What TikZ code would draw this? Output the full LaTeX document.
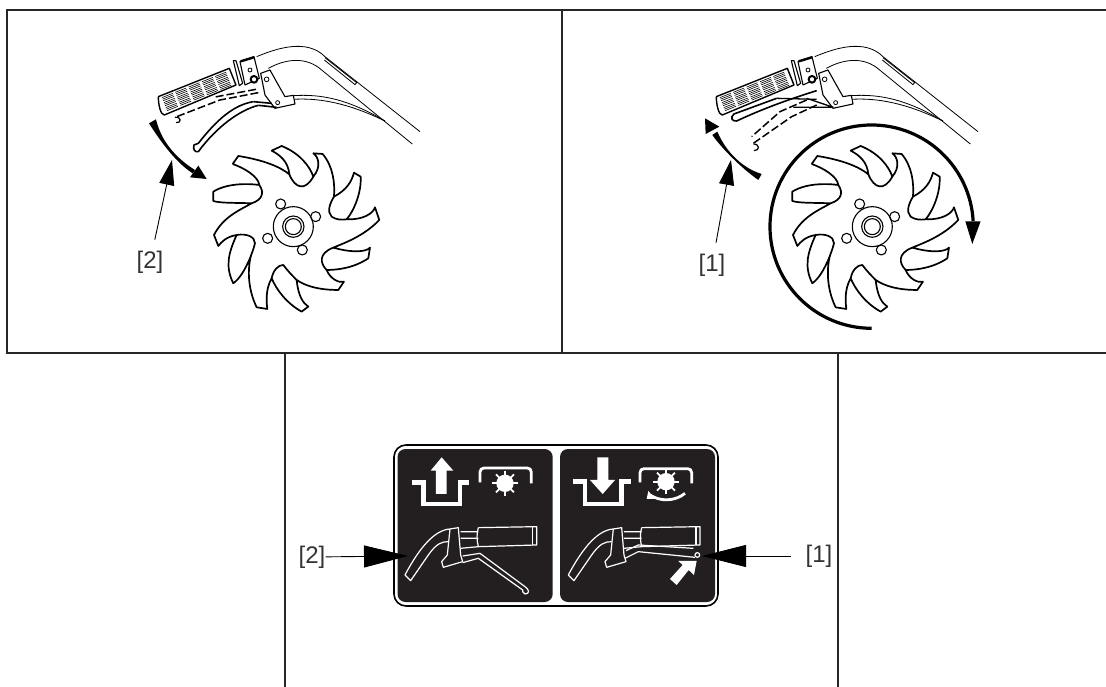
\documentclass[tikz,border=0pt]{standalone}
\usepackage{fontspec}
\setmainfont{Liberation Sans}
\usetikzlibrary{arrows.meta}
\definecolor{decal}{HTML}{231F20}
\tikzset{
  frame/.style={line width=1.1pt,black!85},
  part/.style={line width=1.1pt,line join=round},
  tine/.style={line width=1.7pt,line join=round},
  thinpart/.style={line width=.8pt},
  hidden/.style={line width=1.5pt,dash pattern=on 8pt off 3pt},
  callout/.style={inner sep=11pt,font=\fontsize{24}{26}\selectfont,text=black!80},
  leader/.style={-{Triangle[length=25pt,width=15pt]},line width=.9pt},
  bigleader/.style={-{Triangle[length=44pt,width=22pt]},line width=.9pt},
  zoomed/.style={x=.3333pt,y=-.3333pt},
  sign/.style={white,line width=1.2pt,line join=round}
}
\newcommand{\tinewheel}[2]{
  \begin{scope}[shift={(#1,#2)},zoomed]
    \draw[tine,fill=white] (308,432) -- (325,408) .. controls (400,420) and (450,440) .. (478,463)
      .. controls (475,425) and (450,405) .. (425,392) -- (455,378) .. controls (510,400) and (540,440) .. (550,470)
      .. controls (575,440) and (565,410) .. (550,400) -- (578,402) .. controls (610,440) and (615,490) .. (612,530)
      .. controls (650,510) and (665,485) .. (672,458) -- (692,470) .. controls (695,520) and (670,575) .. (650,598)
      .. controls (700,600) and (730,580) .. (735,562) -- (748,600) .. controls (700,650) and (640,670) .. (610,683)
      .. controls (670,700) and (710,695) .. (720,683) -- (715,715) .. controls (670,745) and (620,750) .. (590,750)
      .. controls (600,775) and (625,790) .. (642,785) -- (625,810) .. controls (570,810) and (530,800) .. (500,780)
      .. controls (505,830) and (520,850) .. (535,860) -- (515,875) .. controls (470,850) and (440,810) .. (425,775)
      .. controls (405,810) and (410,850) .. (412,867) -- (380,862) .. controls (350,800) and (355,740) .. (362,710)
      .. controls (345,750) and (330,775) .. (310,790) .. controls (285,740) and (295,700) .. (320,645)
      .. controls (290,650) and (275,665) .. (265,678) -- (252,645) .. controls (280,590) and (330,570) .. (365,550)
      .. controls (320,548) and (270,550) .. (250,543) -- (250,515) .. controls (290,490) and (350,490) .. (388,495)
      .. controls (385,470) and (345,445) .. (308,432);
    \draw[tine] (478,463) .. controls (495,505) and (525,515) .. (550,470);
    \draw[tine] (388,495) .. controls (405,520) and (395,540) .. (365,550);
    \draw[tine] (320,645) .. controls (350,640) and (375,650) .. (375,670) .. controls (370,690) and (365,700) .. (362,710);
    \draw[tine] (425,775) .. controls (430,750) and (445,735) .. (460,735) .. controls (475,755) and (490,770) .. (500,780);
    \draw[tine] (590,750) .. controls (570,730) and (565,700) .. (610,683);
    \draw[tine] (612,530) .. controls (600,550) and (590,575) .. (605,590) .. controls (620,600) and (635,600) .. (650,598);
    \draw[part] (490,620) circle[radius=60] circle[radius=32] circle[radius=24];
    \foreach \hx/\hy in {452/552,557/590,517/690,413/655}
      \draw[part] (\hx,\hy) circle[radius=15];
  \end{scope}
}
\newcommand{\handlebar}[2]{
  \begin{scope}[shift={(#1,#2)},zoomed]
    \draw[thinpart] (380,110) .. controls (440,85) and (530,55) .. (585,110) -- (870,335);
    \draw[thinpart] (415,145) .. controls (470,115) and (530,110) .. (575,150) -- (847,372);
    \draw[thinpart] (585,113) -- (680,188) -- (675,194) -- (583,120);
    \draw[thinpart] (490,227) .. controls (570,222) and (650,235) .. (765,303);
    \draw[thinpart] (490,238) .. controls (590,232) and (680,262) .. (765,303);
    \draw[part,line width=1.4pt,fill=white] (85,230) -- (298,145) -- (318,195) -- (103,285) .. controls (92,285) and (85,255) .. (85,230);
    \draw[part,fill=white] (310,122) -- (318,122) -- (338,190) -- (328,197) -- cycle;
    \draw[part,fill=white] (330,125) -- (372,110) -- (388,175) -- (345,195) -- cycle;
    \draw[line width=2.4pt] (332,124) -- (372,112);
    \begin{scope}[shift={(90,232)},x={(.31pt,.123pt)},y={(.123pt,-.31pt)}]
      \foreach \cl in {0,...,4}
        \foreach \rw in {0,1,2}
          \foreach \ln in {0,5,10}
            \draw[line width=.6pt] (\cl*43+5,\rw*16+\ln+3) -- (\cl*43+40,\rw*16+\ln+3);
    \end{scope}
    \draw[thinpart] (360,150) circle[radius=6];
    \draw[line width=2pt,fill=white] (372,178) circle[radius=10];
    \draw[part,fill=white] (392,160) -- (420,150) -- (445,195) -- (465,230) -- (490,226) -- (495,252) -- (435,265) -- (405,225) -- cycle;
    \draw[thinpart] (410,178) circle[radius=7] (443,248) circle[radius=6];
  \end{scope}
}
\newcommand{\decalbody}[2]{
  \begin{scope}[shift={(#1,#2)},zoomed]
    \draw[sign] (195,435) -- (212,452) -- (265,375) .. controls (290,340) and (305,335) .. (325,335);
    \draw[sign] (195,435) .. controls (240,350) and (285,300) .. (330,297) -- (355,293) -- (362,375) -- (368,395) -- (310,412) -- (305,395) -- (322,375) -- (330,297);
    \draw[sign] (362,305) -- (415,305) (362,325) -- (415,325) (362,355) -- (415,350);
    \draw[sign] (415,293) -- (590,290) -- (590,345) -- (415,350) .. controls (410,330) and (410,310) .. (415,293);
    \draw[sign] (578,292) -- (578,345);
  \end{scope}
}
\begin{document}
\begin{tikzpicture}[x=1pt,y=-1pt]
  \useasboundingbox (0,0) rectangle (1106,687);
  \draw[frame] (1106,10) -- (7,10) -- (7,353) -- (1106,353);
  \draw[frame] (562,10) -- (562,353);
  \draw[frame] (285,353) -- (285,687);
  \draw[frame] (838,353) -- (838,687);

  % left panel
  \handlebar{130}{20}
  \tinewheel{130}{20}
  \begin{scope}[shift={(130,20)},zoomed]
    \draw[part,line width=1.6pt,fill=white] (385,256) .. controls (330,270) and (260,320) .. (205,395) .. controls (195,398) and (188,388) .. (192,375) -- (205,370) .. controls (260,300) and (310,255) .. (370,245);
    \draw[line width=1.6pt] (440,262) -- (385,256) (370,245) -- (425,250);
    \draw[hidden] (378,208) -- (250,232);
    \draw[hidden] (385,218) -- (270,240) -- (135,292);
    \draw[line width=1.2pt] (135,292) .. controls (155,290) and (155,310) .. (138,308);
    \fill (78,298) .. controls (88,340) and (115,400) .. (195,450) -- (188,460) .. controls (125,420) and (71,331) .. (57,310) -- cycle;
    \fill (230,477) -- (180,472) -- (205,437) -- cycle;
  \end{scope}
  \node[callout] (lab2) at (150,262) {[2]};
  \coordinate (lab2tip) at (172,160);
  \draw[leader] (lab2) -- (lab2tip);

  % right panel
  \handlebar{688}{20}
  \tinewheel{709}{20}
  \begin{scope}[shift={(660,20)},zoomed]
    \draw[part,line width=1.6pt,fill=white] (470,212) .. controls (380,240) and (300,270) .. (230,303) .. controls (215,305) and (210,292) .. (222,282) -- (350,235);
    \draw[line width=1.3pt] (350,235) -- (470,238) (440,235) -- (520,262) (400,262) -- (520,262);
    \draw[hidden] (470,255) -- (395,290) -- (280,370);
    \draw[hidden] (440,240) -- (360,275) -- (275,350);
    \draw[line width=1.2pt] (280,372) .. controls (300,372) and (300,392) .. (282,392);
    \fill (305,462) .. controls (250,445) and (200,400) .. (172,335) -- (157,345) .. controls (185,385) and (245,445) .. (295,480) -- cycle;
    \fill (135,295) -- (137,342) -- (178,320) -- cycle;
    \draw[line width=3.2pt] (635,620) ++(90:305) arc[start angle=90,end angle=357,radius=305];
    \fill (937,672) -- (916,604) -- (962,604) -- cycle;
  \end{scope}
  \node[callout] (lab1) at (712,265) {[1]};
  \coordinate (lab1tip) at (731,160);
  \draw[leader] (lab1) -- (lab1tip);

  % decal
  \draw[line width=1.6pt,rounded corners=12pt,fill=white] (394,445) rectangle (718,606);
  \fill[decal,rounded corners=8pt] (397.5,449) rectangle (552.7,602);
  \fill[decal,rounded corners=8pt] (560,449) rectangle (715,602);
  \decalbody{340}{430}
  \decalbody{503.33}{430}
  \begin{scope}[shift={(340,430)},zoomed]
    \draw[white,line width=4.4pt] (215,158) -- (250,158) -- (250,222) -- (360,222) -- (360,158) -- (388,158);
    \fill[white] (288,192) -- (288,122) -- (272,122) -- (305,82) -- (340,122) -- (320,122) -- (320,192) -- cycle;
    \draw[white,line width=2.8pt,rounded corners=4pt] (420,157) -- (420,114) -- (574,114) -- (574,160);
    \fill[white] (495,160) circle[radius=26];
    \foreach \ang in {0,45,...,315}
      \draw[white,line width=1.8pt] (495,160) -- ++(\ang:38);
    \draw[sign] (368,378) -- (420,370) -- (555,470) .. controls (568,478) and (570,492) .. (555,492) .. controls (546,490) and (548,480) .. (548,480) -- (415,385) -- (368,398);
  \end{scope}
  \begin{scope}[shift={(550,430)},zoomed]
    \draw[white,line width=4.4pt] (68,155) -- (105,155) -- (105,222) -- (215,222) -- (215,155) -- (242,155);
    \fill[white] (142,82) -- (175,82) -- (175,150) -- (195,150) -- (158,192) -- (120,150) -- (142,150) -- cycle;
    \draw[white,line width=2.8pt,rounded corners=4pt] (270,157) -- (270,116) -- (425,116) -- (425,160);
    \fill[white] (348,155) circle[radius=26];
    \foreach \ang in {0,45,...,315}
      \draw[white,line width=1.8pt] (348,155) -- ++(\ang:38);
    \draw[white,line width=2.8pt] (300,195) .. controls (330,215) and (375,215) .. (405,190);
    \fill[white] (290,207) -- (315,207) -- (295,183) -- cycle;
    \draw[sign] (228,362) -- (265,345) -- (430,355) (225,385) -- (265,365) -- (435,382);
    \draw[sign] (442,375) circle[radius=7];
    \fill[white] (440,393) -- (432,435) -- (416,420) -- (380,465) -- (360,447) -- (398,405) -- (385,393) -- cycle;
  \end{scope}

  \node[inner sep=0pt,font=\fontsize{24}{26}\selectfont,text=black!80] (lab2b) at (312,557) {[2]\hspace{14pt}};
  \coordinate (lab2btip) at (408,556);
  \draw[bigleader] (lab2b) -- (lab2btip);
  \node[inner sep=0pt,font=\fontsize{24}{26}\selectfont,text=black!80] (lab1b) at (812,556) {\hspace{14pt}[1]};
  \coordinate (lab1btip) at (702,556);
  \draw[bigleader] (lab1b) -- (lab1btip);
\end{tikzpicture}
\end{document}
